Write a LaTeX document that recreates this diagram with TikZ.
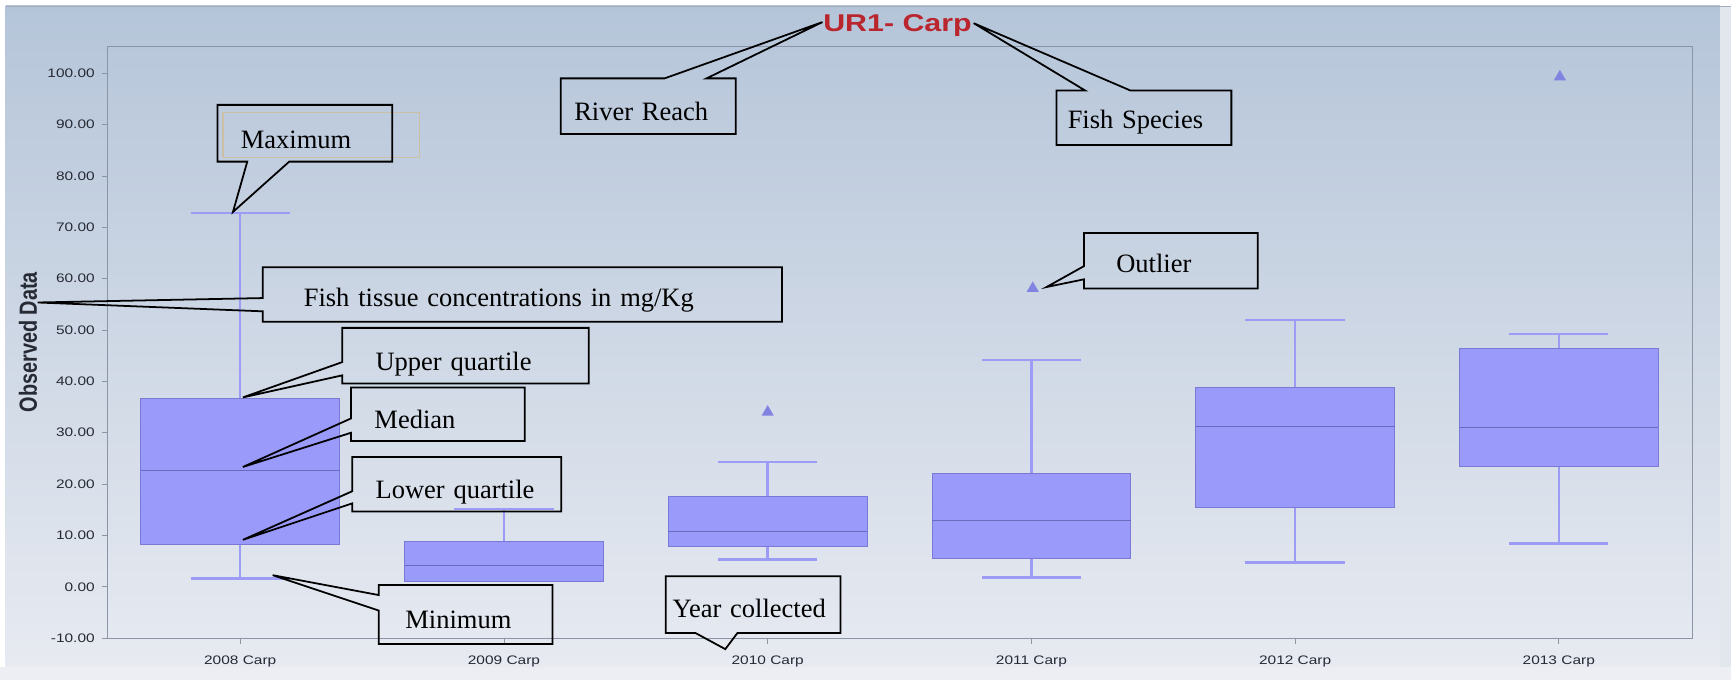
\documentclass[tikz,border=0pt]{standalone}
\usepackage{fontspec}
\setmainfont{Liberation Serif}
\newfontfamily\chartfont[FakeStretch=1.25]{Liberation Sans}
\newfontfamily\chartsans{Liberation Sans}
\usetikzlibrary{calc}
\definecolor{bgtop}{HTML}{B5C5D9}
\definecolor{bgmid}{HTML}{CDD6E3}
\definecolor{bgbot}{HTML}{E7EAF1}
\definecolor{rightstrip}{HTML}{E2E7EE}
\definecolor{botstrip}{HTML}{ECEEF3}
\definecolor{topline}{HTML}{A2ADBA}
\definecolor{boxfill}{HTML}{9A9AFA}
\definecolor{boxline}{HTML}{7A7AD6}
\definecolor{medline}{HTML}{6A6AC0}
\definecolor{whisk}{HTML}{9C9CF6}
\definecolor{axisgray}{HTML}{8A96A6}
\definecolor{titlered}{HTML}{B9262D}
\definecolor{ticktext}{HTML}{262A35}
\definecolor{tanline}{HTML}{CBBFA6}
\definecolor{outl}{HTML}{8282E0}
\tikzset{
  callout/.style={draw=black, line width=1.6pt, line join=miter},
  cbox/.style n args={4}{anchor=north west, inner ysep=0pt, inner xsep=#1, text width=#2, text height=#3, text depth=#4, align=left, font=\fontsize{24}{28}\selectfont},
  whisker/.style={draw=whisk, line width=2.2pt},
  boxst/.style={fill=boxfill, draw=boxline, line width=1pt},
  medst/.style={draw=medline, line width=1pt},
  ticklab/.style={font=\chartfont\fontsize{11.2}{13}\selectfont, text=ticktext, inner sep=0pt},
  axisline/.style={draw=axisgray, line width=0.8pt},
}
\begin{document}
\begin{tikzpicture}[x=1pt, y=-1pt]
\useasboundingbox (0,0) rectangle (1568,616);
\fill[white] (0,0) rectangle (1568,616);
\shade[top color=bgtop, middle color=bgmid, bottom color=bgbot] (5,5) rectangle (1558,604);
\fill[rightstrip] (1558,5) rectangle (1568,604);
\fill[botstrip] (0,604) rectangle (1568,616);
\draw[topline, line width=0.8pt] (5,5.4) -- (1568,5.4);

% plot frame
\draw[axisline] (97,42) rectangle (1533,578);
\foreach \v/\t in {-10/-10.00, 0/0.00, 10/10.00, 20/20.00, 30/30.00, 40/40.00, 50/50.00, 60/60.00, 70/70.00, 80/80.00, 90/90.00, 100/100.00} {
  \draw[axisline] (92,{531.5-4.651*\v}) -- (97,{531.5-4.651*\v});
  \node[ticklab, anchor=east] (yt\v) at (86,{531.5-4.651*\v}) {\t};
}
\foreach \i/\cx in {2008/217.6, 2009/456.5, 2010/695.4, 2011/934.3, 2012/1173.2, 2013/1412} {
  \draw[axisline] (\cx,578) -- (\cx,583);
  \node[ticklab, anchor=base] (xl\i) at (\cx,601.5) {\i\ Carp};
}

% box plots
\foreach \cx/\mn/\qa/\md/\qb/\mx in {217.6/1.6/8.3/22.6/36.7/72.8, 456.5/1.1/1.1/4.2/8.8/15.1, 695.4/5.3/7.9/10.8/17.6/24.3, 934.3/1.8/5.5/12.9/22.0/44.2, 1173.2/4.7/15.4/31.2/38.8/52.0, 1412/8.4/23.5/31.0/46.4/49.2} {
  \draw[whisker] (\cx,{531.5-4.651*\mx}) -- (\cx,{531.5-4.651*\qb});
  \draw[whisker] (\cx,{531.5-4.651*\qa}) -- (\cx,{531.5-4.651*\mn});
  \draw[whisker] ({\cx-45},{531.5-4.651*\mx}) -- ({\cx+45},{531.5-4.651*\mx});
  \draw[whisker] ({\cx-45},{531.5-4.651*\mn}) -- ({\cx+45},{531.5-4.651*\mn});
  \draw[boxst] ({\cx-90},{531.5-4.651*\qb}) rectangle ({\cx+90},{531.5-4.651*\qa});
  \draw[medst] ({\cx-90},{531.5-4.651*\md}) -- ({\cx+90},{531.5-4.651*\md});
}
% outliers
\foreach \cx/\v in {695.4/34.3, 935.5/58.4, 1413/99.6} {
  \fill[outl] ({\cx-5.5},{531.5-4.651*\v+4.5}) -- ({\cx+5.5},{531.5-4.651*\v+4.5}) -- (\cx,{531.5-4.651*\v-5}) -- cycle;
}

% title and axis title
\node[font=\chartfont\bfseries\fontsize{22}{24}\selectfont, text=titlered, anchor=base, inner sep=0pt] (title) at (813,28.5) {UR1- Carp};
\node[font=\chartsans\bfseries\fontsize{18}{20}\selectfont, text=ticktext, xscale=1.25, rotate=90, anchor=base, inner sep=0pt] (ylab) at (33.5,310) {Observed Data};

% stray tan frame
\draw[tanline, line width=1pt] (202,102) rectangle (380,143);

% callouts
\node[cbox={21pt}{116pt}{39pt}{12pt}] (maxB) at (197,95) {Maximum};
\coordinate (maxTip) at (211,192);
\draw[callout] (maxB.north west) -- (maxB.north east) -- (maxB.south east) -- ($(maxB.south west)+(65,0)$) -- (maxTip) -- ($(maxB.south west)+(27,0)$) -- (maxB.south west) -- cycle;

\node[cbox={37pt}{396pt}{35pt}{14pt}] (fishB) at (238,242) {Fish tissue concentrations in mg/Kg};
\coordinate (fishTip) at (34,274);
\draw[callout] (fishB.north west) -- (fishB.north east) -- (fishB.south east) -- (fishB.south west) -- ($(fishB.north west)+(0,40)$) -- (fishTip) -- ($(fishB.north west)+(0,28)$) -- cycle;

\node[cbox={30pt}{163pt}{38pt}{12pt}] (upB) at (310,297) {Upper quartile};
\coordinate (upTip) at (220,360);
\draw[callout] (upB.north west) -- (upB.north east) -- (upB.south east) -- (upB.south west) -- ($(upB.north west)+(0,43)$) -- (upTip) -- ($(upB.north west)+(0,31)$) -- cycle;

\node[cbox={21pt}{115pt}{37pt}{11pt}] (medB) at (318,351) {Median};
\coordinate (medTip) at (220,423);
\draw[callout] (medB.north west) -- (medB.north east) -- (medB.south east) -- (medB.south west) -- ($(medB.north west)+(0,41)$) -- (medTip) -- ($(medB.north west)+(0,28)$) -- cycle;

\node[cbox={21pt}{147pt}{37pt}{12pt}] (lowB) at (319,414) {Lower quartile};
\coordinate (lowTip) at (220,489);
\draw[callout] (lowB.north west) -- (lowB.north east) -- (lowB.south east) -- (lowB.south west) -- ($(lowB.north west)+(0,42)$) -- (lowTip) -- ($(lowB.north west)+(0,31)$) -- cycle;

\node[cbox={24pt}{109pt}{39pt}{14pt}] (minB) at (343,530) {Minimum};
\coordinate (minTip) at (247,521);
\draw[callout] (minB.north west) -- (minB.north east) -- (minB.south east) -- (minB.south west) -- ($(minB.north west)+(0,23)$) -- (minTip) -- ($(minB.north west)+(0,9)$) -- cycle;

\node[cbox={6pt}{146pt}{37pt}{14pt}] (yearB) at (603,522) {Year collected};
\coordinate (yearTip) at (657,588);
\draw[callout] (yearB.north west) -- (yearB.north east) -- (yearB.south east) -- ($(yearB.south west)+(65,0)$) -- (yearTip) -- ($(yearB.south west)+(27,0)$) -- (yearB.south west) -- cycle;

\node[cbox={12pt}{134pt}{38pt}{12pt}] (riverB) at (508,71) {River Reach};
\coordinate (riverTip) at (745,20);
\draw[callout] (riverB.south west) -- (riverB.north west) -- ($(riverB.north west)+(94,0)$) -- (riverTip) -- ($(riverB.north west)+(132,0)$) -- (riverB.north east) -- (riverB.south east) -- cycle;

\node[cbox={10pt}{138pt}{34pt}{15pt}] (specB) at (957,82) {Fish Species};
\coordinate (specTip) at (882,21);
\draw[callout] (specB.south west) -- (specB.north west) -- ($(specB.north west)+(26,0)$) -- (specTip) -- ($(specB.north west)+(67,0)$) -- (specB.north east) -- (specB.south east) -- cycle;

\node[cbox={29pt}{99pt}{36pt}{14pt}] (outB) at (982,211) {Outlier};
\coordinate (outTip) at (948,260);
\draw[callout] (outB.north west) -- (outB.north east) -- (outB.south east) -- (outB.south west) -- ($(outB.north west)+(0,42)$) -- (outTip) -- ($(outB.north west)+(0,30)$) -- cycle;
\end{tikzpicture}
\end{document}
